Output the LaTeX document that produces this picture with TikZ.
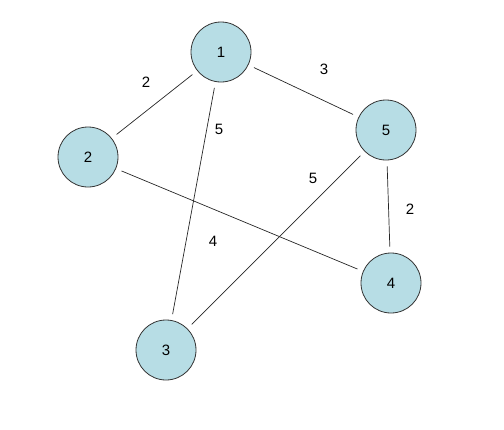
\documentclass[tikz,border=0pt]{standalone}
\usepackage{fontspec}
\setmainfont{Liberation Sans}
\usepackage{tikz}
\usetikzlibrary{positioning}
\definecolor{vertfill}{RGB}{183,221,229}
\tikzset{
  vert/.style  = {circle, draw=black!80, fill=vertfill, line width=0.8pt,
                  minimum size=60pt, inner sep=0pt, font=\fontsize{15}{18}\selectfont},
  edge/.style  = {draw=black!85, line width=0.7pt, shorten >=6pt, shorten <=6pt},
  wlabel/.style= {inner sep=1pt, font=\fontsize{15}{18}\selectfont},
}
\begin{document}
\begin{tikzpicture}[x=1pt, y=-1pt]
  \useasboundingbox (0,0) rectangle (504,429);

  % Vertices
  \node[vert] (n1) at (221,52)  {1};
  \node[vert] (n2) at (88,157)  {2};
  \node[vert] (n5) at (386,130) {5};
  \node[vert] (n4) at (391,283) {4};
  \node[vert] (n3) at (166,350) {3};

  % Edges
  \draw[edge] (n1) -- (n2);
  \draw[edge] (n1) -- (n5);
  \draw[edge] (n1) -- (n3);
  \draw[edge] (n2) -- (n4);
  \draw[edge] (n5) -- (n3);
  \draw[edge] (n5) -- (n4);

  % Weights
  \node[wlabel] (w12) at (146,82)  {2};
  \node[wlabel] (w15) at (324,69)  {3};
  \node[wlabel] (w13) at (219,129) {5};
  \node[wlabel] (w24) at (213,241) {4};
  \node[wlabel] (w53) at (313,178) {5};
  \node[wlabel] (w54) at (410,209) {2};
\end{tikzpicture}
\end{document}
